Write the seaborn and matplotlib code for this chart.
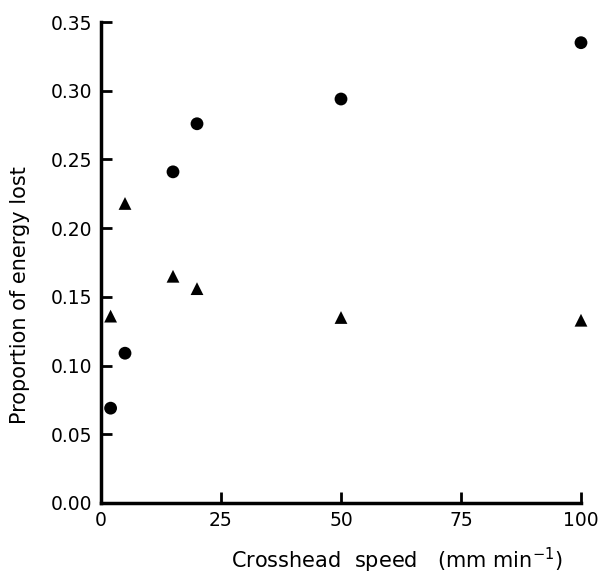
import matplotlib
matplotlib.use("Agg")
import matplotlib.pyplot as plt
import pandas as pd
import seaborn as sns

# Crosshead speed (mm/min) and proportion of energy lost
speed = [2, 5, 15, 20, 50, 100]
loss_circles = [0.069, 0.109, 0.241, 0.276, 0.294, 0.335]
loss_triangles = [0.136, 0.218, 0.165, 0.156, 0.135, 0.133]

df = pd.concat([
    pd.DataFrame({"speed": speed, "loss": loss_circles, "series": "circle"}),
    pd.DataFrame({"speed": speed, "loss": loss_triangles, "series": "triangle"}),
])

sns.set_style("ticks")
plt.rcParams["font.family"] = ["DejaVu Sans"]
plt.rcParams["text.color"] = "black"
plt.rcParams["axes.labelcolor"] = "black"

fig = plt.figure(figsize=(6.03, 5.78), dpi=100)
ax = fig.add_axes([0.1675, 0.1298, 0.796, 0.832])

sns.scatterplot(
    data=df, x="speed", y="loss", style="series",
    markers={"circle": "o", "triangle": "^"},
    color="black", s=85, linewidth=0, legend=False, ax=ax,
    clip_on=False,
)

ax.set_xlim(0, 100)
ax.set_ylim(0, 0.35)
ax.set_xticks([0, 25, 50, 75, 100])
ax.set_yticks([0.0, 0.05, 0.10, 0.15, 0.20, 0.25, 0.30, 0.35])
ax.set_yticklabels(["0.00", "0.05", "0.10", "0.15", "0.20", "0.25", "0.30", "0.35"])
ax.tick_params(direction="in", length=8, width=2, labelsize=13.5, colors="black", pad=6)
for side in ["top", "right"]:
    ax.spines[side].set_visible(False)
for side in ["left", "bottom"]:
    ax.spines[side].set_linewidth(2.5)
    ax.spines[side].set_color("black")

ax.set_xlabel("Crosshead  speed   (mm min$^{-1}$)", fontsize=15)
ax.set_ylabel("Proportion of energy lost", fontsize=15)
ax.xaxis.set_label_coords(0.617, -0.090)
ax.yaxis.set_label_coords(-0.148, 0.432)

fig.savefig("out.png", dpi=100)
